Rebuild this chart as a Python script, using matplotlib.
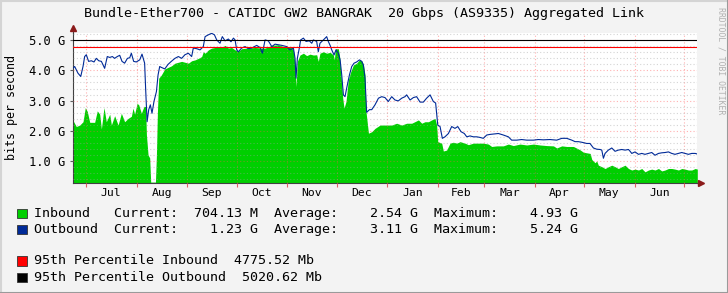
import numpy as np
import matplotlib
matplotlib.use('Agg')
import matplotlib.pyplot as plt
from matplotlib.lines import Line2D
from matplotlib.patches import Rectangle
from matplotlib.ticker import FixedLocator, MultipleLocator, NullFormatter

plt.rcParams['font.family'] = ['DejaVu Sans Mono']

# Datos (dias desde el inicio del grafico, Gbps)
start_date = np.datetime64('2017-06-23')

in_days = [0, 2.2, 4.3, 6.3, 7.7, 8.9, 10.4, 13.4, 15.0, 16.5,
           17.5, 19.1, 20.5, 22.6, 23.6, 25.6, 27.7, 29.7, 31.7, 33.8,
           35.8, 36.8, 37.8, 39.3, 40.3, 41.9, 43.5, 44.5, 45.0, 46.0,
           47.0, 47.6, 50.5, 51.1, 51.7, 52.5, 54.1, 56.2, 58.2, 60.2,
           62.4, 66.5, 70.6, 72.6, 74.7, 76.7, 78.7, 79.7, 80.8, 82.8,
           84.8, 86.9, 90.9, 93.0, 95.0, 97.0, 99.1, 101.1, 103.1, 107.2,
           111.3, 115.3, 117.4, 121.5, 125.5, 128.6, 130.6, 132.6, 134.7, 135.7,
           136.3, 137.1, 138.7, 140.8, 142.8, 144.8, 146.9, 148.9, 149.9, 150.9,
           153.0, 155.0, 157.1, 159.1, 159.7, 160.3, 162.1, 162.8, 163.6, 164.8,
           165.6, 166.8, 168.2, 169.7, 171.3, 173.3, 175.0, 176.4, 177.4, 178.4,
           179.0, 180.5, 182.5, 184.5, 187.6, 190.6, 194.7, 197.7, 200.8, 203.8,
           206.9, 209.9, 211.0, 213.0, 215.0, 217.1, 219.1, 221.1, 222.1, 222.8,
           225.2, 226.2, 228.2, 230.3, 232.3, 234.4, 236.4, 239.4, 241.5, 244.5,
           247.6, 250.6, 253.7, 255.7, 258.8, 262.8, 265.9, 268.9, 273.0, 277.1,
           281.2, 285.2, 289.3, 293.4, 295.4, 298.5, 301.5, 305.6, 309.6, 311.7,
           315.8, 316.8, 318.8, 319.8, 320.8, 322.9, 324.9, 327.0, 329.0, 331.0,
           333.0, 335.1, 337.1, 339.2, 341.2, 343.2, 345.3, 347.3, 349.3, 351.4,
           353.4, 355.4, 357.5, 359.5, 361.5, 363.6, 365.6, 367.6, 369.7, 371.7,
           373.7, 375.8, 377.8, 379.9, 381.2]
in_vals = [2.36, 2.14, 2.19, 2.30, 2.77, 2.64, 2.28, 2.28, 2.66, 2.55,
           2.06, 2.77, 2.30, 2.55, 2.19, 2.50, 2.19, 2.58, 2.30, 2.41,
           2.48, 2.75, 2.55, 2.91, 2.86, 2.58, 2.81, 2.80, 1.86, 1.20,
           1.10, 0.30, 0.30, 1.20, 2.60, 3.74, 3.85, 4.05, 4.10, 4.15,
           4.24, 4.30, 4.24, 4.32, 4.35, 4.40, 4.46, 4.62, 4.57, 4.68,
           4.74, 4.76, 4.76, 4.83, 4.74, 4.76, 4.68, 4.64, 4.72, 4.74,
           4.76, 4.74, 4.74, 4.83, 4.85, 4.79, 4.76, 4.79, 4.68, 4.18,
           3.46, 4.30, 4.51, 4.57, 4.49, 4.54, 4.51, 4.52, 4.30, 4.57,
           4.62, 4.57, 4.60, 4.51, 4.35, 4.72, 4.72, 4.51, 3.96, 3.08,
           2.75, 2.97, 3.68, 3.96, 4.18, 4.24, 4.35, 4.32, 4.20, 3.85,
           2.64, 1.92, 1.97, 2.08, 2.19, 2.19, 2.19, 2.25, 2.19, 2.25,
           2.25, 2.33, 2.36, 2.25, 2.30, 2.30, 2.36, 2.41, 2.19, 1.64,
           1.59, 1.33, 1.36, 1.59, 1.62, 1.59, 1.64, 1.59, 1.54, 1.59,
           1.59, 1.59, 1.56, 1.48, 1.50, 1.50, 1.56, 1.51, 1.56, 1.53,
           1.56, 1.53, 1.51, 1.50, 1.43, 1.50, 1.48, 1.48, 1.37, 1.29,
           1.25, 1.05, 0.94, 1.00, 0.86, 0.81, 0.75, 0.81, 0.86, 0.81,
           0.75, 0.81, 0.86, 0.75, 0.70, 0.73, 0.70, 0.75, 0.64, 0.70,
           0.73, 0.70, 0.75, 0.67, 0.70, 0.75, 0.75, 0.73, 0.70, 0.75,
           0.73, 0.70, 0.70, 0.75, 0.73]

out_days = [0, 1.2, 3.2, 4.9, 6.3, 7.3, 8.3, 9.7, 11.4, 13.0,
            14.4, 15.9, 17.5, 19.5, 21.1, 22.6, 24.2, 25.6, 27.2, 28.7,
            30.1, 31.7, 33.4, 34.8, 35.8, 37.2, 38.8, 40.9, 42.3, 43.9,
            44.5, 45.4, 46.4, 47.4, 48.4, 49.6, 51.1, 52.1, 53.1, 54.1,
            56.2, 58.2, 60.2, 62.4, 64.5, 66.5, 68.5, 70.6, 72.6, 73.6,
            75.7, 77.7, 79.7, 80.8, 82.8, 84.8, 86.5, 87.9, 89.9, 91.3,
            93.0, 95.0, 96.6, 98.1, 99.1, 100.1, 101.1, 103.1, 105.2, 107.2,
            109.2, 112.3, 114.3, 115.8, 117.4, 119.4, 121.5, 123.5, 125.5, 127.6,
            130.6, 132.6, 134.7, 135.7, 136.3, 137.1, 138.3, 139.1, 140.8, 142.4,
            144.4, 145.9, 146.9, 148.9, 149.9, 150.9, 153.0, 155.0, 156.0, 157.1,
            158.1, 159.5, 160.7, 162.1, 163.2, 164.2, 165.2, 166.2, 167.2, 168.9,
            170.3, 171.7, 173.3, 175.0, 176.4, 177.4, 178.4, 179.4, 181.1, 182.5,
            184.5, 186.6, 188.6, 190.6, 192.6, 194.7, 196.7, 198.7, 200.8, 202.8,
            203.8, 205.9, 207.9, 209.9, 212.0, 214.0, 216.0, 218.1, 220.1, 221.5,
            222.8, 224.2, 225.6, 227.2, 229.3, 231.3, 233.3, 235.0, 237.0, 239.0,
            240.5, 242.5, 244.5, 246.6, 248.6, 250.6, 252.7, 254.7, 259.8, 262.8,
            265.9, 267.9, 271.0, 274.0, 277.1, 281.2, 284.2, 287.3, 291.3, 295.4,
            298.5, 301.5, 304.6, 306.6, 308.6, 310.7, 313.7, 315.7, 317.8, 319.8,
            321.9, 322.9, 323.9, 324.9, 326.9, 329.0, 331.0, 333.0, 335.1, 337.1,
            339.2, 340.2, 341.2, 343.2, 345.3, 347.3, 349.3, 351.4, 353.4, 355.4,
            357.5, 359.5, 361.5, 363.6, 365.6, 367.6, 369.7, 371.7, 373.7, 375.8,
            377.8, 379.9, 381.2]
out_vals = [4.07, 4.13, 3.91, 3.80, 4.13, 4.46, 4.52, 4.30, 4.32, 4.28,
            4.40, 4.32, 4.30, 4.07, 4.46, 4.43, 4.46, 4.40, 4.46, 4.50,
            4.30, 4.24, 4.40, 4.42, 4.57, 4.30, 4.28, 4.35, 4.54, 4.24,
            3.41, 2.30, 2.70, 2.86, 2.58, 2.97, 3.30, 3.85, 4.13, 4.10,
            4.05, 4.20, 4.30, 4.40, 4.46, 4.40, 4.52, 4.57, 4.46, 4.74,
            4.72, 4.68, 4.79, 5.12, 5.18, 5.23, 5.18, 5.01, 4.90, 5.12,
            4.98, 5.04, 4.95, 5.07, 5.01, 4.68, 4.62, 4.74, 4.79, 4.72,
            4.74, 4.83, 4.76, 4.57, 5.01, 4.98, 4.79, 4.87, 4.85, 4.83,
            4.79, 4.68, 4.74, 4.40, 3.74, 4.40, 4.74, 5.01, 5.07, 4.96,
            4.98, 4.90, 5.01, 4.96, 4.62, 4.90, 5.01, 5.12, 4.96, 4.83,
            4.68, 4.51, 4.68, 4.57, 4.35, 3.85, 3.19, 3.13, 3.41, 3.85,
            4.13, 4.24, 4.28, 4.35, 4.30, 4.18, 3.74, 2.61, 2.70, 2.70,
            2.86, 3.08, 3.13, 3.10, 2.97, 3.13, 3.02, 2.99, 3.08, 3.13,
            3.19, 3.02, 3.10, 3.13, 2.95, 2.95, 3.08, 3.19, 2.97, 2.92,
            2.19, 2.14, 1.75, 1.80, 1.91, 2.14, 2.08, 2.14, 1.97, 1.91,
            1.80, 1.83, 1.80, 1.80, 1.78, 1.75, 1.86, 1.88, 1.91, 1.86,
            1.80, 1.69, 1.69, 1.71, 1.69, 1.69, 1.71, 1.70, 1.71, 1.69,
            1.75, 1.75, 1.69, 1.64, 1.64, 1.62, 1.58, 1.58, 1.43, 1.39,
            1.38, 1.36, 1.09, 1.25, 1.36, 1.43, 1.32, 1.36, 1.38, 1.36,
            1.38, 1.32, 1.25, 1.30, 1.22, 1.25, 1.22, 1.25, 1.28, 1.19,
            1.25, 1.27, 1.28, 1.30, 1.25, 1.22, 1.25, 1.28, 1.25, 1.22,
            1.25, 1.25, 1.23]

pct95_in = 4.77552   # Gbps
pct95_out = 5.02062  # Gbps

y_ticks = [1.0, 2.0, 3.0, 4.0, 5.0]
month_names = ['Jul', 'Aug', 'Sep', 'Oct', 'Nov', 'Dec',
               'Jan', 'Feb', 'Mar', 'Apr', 'May', 'Jun']

title = 'Bundle-Ether700 - CATIDC GW2 BANGRAK  20 Gbps (AS9335) Aggregated Link'
legend_rows = [
    ('#00cf00', 'Inbound   Current:  704.13 M  Average:    2.54 G  Maximum:    4.93 G'),
    ('#002a97', 'Outbound  Current:    1.23 G  Average:    3.11 G  Maximum:    5.24 G'),
    ('#ff0000', '95th Percentile Inbound  4775.52 Mb'),
    ('#000000', '95th Percentile Outbound  5020.62 Mb'),
]

assert len(in_days) == len(in_vals)
assert len(out_days) == len(out_vals)

W, H = 728, 293


def fx(px):
    return px / W


def fy(py):
    return 1 - py / H


fig = plt.figure(figsize=(W / 100, H / 100), dpi=100, facecolor='#f3f3f3')
ax = fig.add_axes([fx(72.7), fy(183.3), fx(697.3) - fx(72.7), fy(33.3) - fy(183.3)])
ax.set_facecolor('white')

# Area de entrada y linea de salida
ax.fill_between(in_days, 0, in_vals, color='#00cf00', linewidth=0, zorder=1)
ax.plot(out_days, out_vals, color='#002a97', linewidth=0.8, zorder=3)
ax.axhline(pct95_in, color='#ff0000', linewidth=0.8, zorder=4)
ax.axhline(pct95_out, color='#000000', linewidth=0.8, zorder=4)

ax.set_xlim(0, 381.2)
ax.set_ylim(0.26, 5.23)

# Meses
months = np.arange(np.datetime64('2017-07'), np.datetime64('2018-08'), dtype='datetime64[M]')
bounds = (months.astype('datetime64[D]') - start_date).astype(float)
mids = (bounds[:-1] + bounds[1:]) / 2

ax.xaxis.set_major_locator(FixedLocator(bounds))
ax.xaxis.set_major_formatter(NullFormatter())
ax.xaxis.set_minor_locator(FixedLocator(mids))
ax.set_xticklabels(month_names, minor=True)
ax.tick_params(axis='x', which='major', length=3, width=0.8, color='#e06060', direction='out')
ax.tick_params(axis='x', which='minor', length=0, pad=3.5, labelsize=8.2)

ax.yaxis.set_major_locator(FixedLocator(y_ticks))
ax.set_yticklabels([f'{v:.1f} G' for v in y_ticks])
ax.yaxis.set_minor_locator(MultipleLocator(0.2))
ax.tick_params(axis='y', which='major', length=2, width=0.8, color='#606060', pad=3.2, labelsize=8.7)
ax.tick_params(axis='y', which='minor', length=0)

ax.set_axisbelow(False)
ax.grid(which='minor', axis='y', color='#a0a0a0', alpha=0.45, linestyle=(0, (1, 2)), linewidth=0.8)
ax.grid(which='major', axis='y', color='#ff5050', alpha=0.45, linestyle=(0, (1, 2)), linewidth=0.8)
ax.grid(which='major', axis='x', color='#ff5050', alpha=0.45, linestyle=(0, (1, 2)), linewidth=0.8)

for s in ['top', 'right']:
    ax.spines[s].set_visible(False)
for s in ['left', 'bottom']:
    ax.spines[s].set_color('#404040')
    ax.spines[s].set_linewidth(0.8)

# Flechas de los ejes
ax.plot([0, 0], [1, 1.025], transform=ax.transAxes, color='#404040', lw=0.8, clip_on=False)
ax.plot([0], [1.035], transform=ax.transAxes, marker='^', ms=4, color='#8b1a1a', clip_on=False)
ax.plot([1, 1.004], [0, 0], transform=ax.transAxes, color='#404040', lw=0.8, clip_on=False)
ax.plot([1.006], [0], transform=ax.transAxes, marker='>', ms=4, color='#8b1a1a', clip_on=False)

# Titulo y etiquetas
fig.text(fx(364), fy(13), title, ha='center', va='center', fontsize=9.6)
fig.text(fx(11.5), fy(107), 'bits per second', rotation=90, ha='center', va='center', fontsize=8.4)
fig.text(fx(721), fy(61), 'RRDTOOL / TOBI OETIKER', rotation=270, ha='center', va='center',
         fontsize=5.9, color='#b0b0b0')

# Leyenda
row_y = [213.3, 229.3, 261.0, 277.3]
for (col, txt), yy in zip(legend_rows, row_y):
    fig.add_artist(Rectangle((fx(17.3), fy(yy + 4.6)), fx(9.4), 9.2 / H,
                             facecolor=col, edgecolor='#333333', linewidth=0.6))
    fig.text(fx(34.3), fy(yy), txt, ha='left', va='center', fontsize=9.6)

# Marco
fig.add_artist(Line2D([0, 1], [fy(0.5), fy(0.5)], color='#d4d4d4', lw=1.5))
fig.add_artist(Line2D([fx(0.5), fx(0.5)], [0, 1], color='#d4d4d4', lw=1.5))
fig.add_artist(Line2D([0, 1], [fy(292.5), fy(292.5)], color='#9a9a9a', lw=1.5))
fig.add_artist(Line2D([fx(727.5), fx(727.5)], [0, 1], color='#9a9a9a', lw=1.5))

fig.savefig('out.png', dpi=100, facecolor=fig.get_facecolor())
